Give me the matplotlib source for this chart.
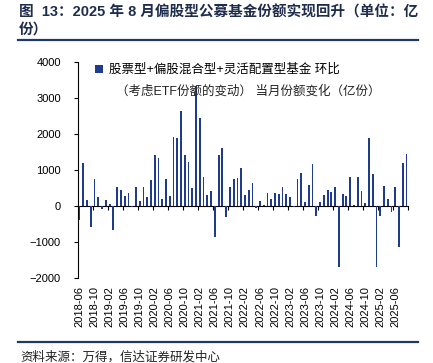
import matplotlib
matplotlib.use("Agg")
import matplotlib.pyplot as plt
from matplotlib.lines import Line2D
import numpy as np
import pandas as pd

plt.rcParams['font.family'] = ['Liberation Sans', 'Noto Sans CJK SC']

# monthly change in fund shares (100 million units), 2018-06 onwards
months = pd.date_range("2018-06-01", periods=88, freq="MS").strftime("%Y-%m").tolist()
change = [
    -400, 1200, 170, -600, 740, 240, -80, 150, 50, -670,
    530, 450, 270, 350, -40, 510, 130, 510, 250, 710,
    1425, 1340, 175, 740, 270, 1920, 1880, 2630, 1425, 1210,
    500, 3340, 2440, 800, 310, 400, -860, 1425, 1600, -305,
    530, 740, 770, 1040, 290, 435, 640, -60, 120, 10,
    350, 200, 340, 315, 510, 315, 240, -40, 740, 910,
    90, 590, 1160, -280, 90, 290, 425, 380, 520, -1700,
    315, 260, 800, 10, 805, 420, 65, 1890, 890, -1700,
    -280, 540, 195, -185, 510, -1140, 1185, 1435,
]
series_name = "股票型+偏股混合型+灵活配置型基金 环比"
series_note = "（考虑ETF份额的变动） 当月份额变化（亿份）"

navy = "#1f3c8c"
rule = "#1f3864"

fig = plt.figure(figsize=(4.33, 3.63), dpi=100)
ax = fig.add_axes([0.1794, 0.2355, 0.7638, 0.5935])

x = np.arange(len(change))
ax.bar(x, change, width=0.48, color=navy, label=series_name)

ax.set_xlim(-0.5, len(change) - 0.5)
ax.set_ylim(-2000, 4000)
ax.set_yticks(np.arange(-2000, 4001, 1000))
ax.tick_params(axis='y', labelsize=8, length=3, pad=9)

ax.spines['top'].set_visible(False)
ax.spines['right'].set_visible(False)
ax.spines['bottom'].set_visible(False)
ax.spines['left'].set_linewidth(0.8)

# labels every 4 months at the bottom of the plot
ax.set_xticks(x[::4])
ax.set_xticklabels(months[::4], rotation=90, fontsize=8)
ax.tick_params(axis='x', length=0, pad=6)

# zero axis with boundary tick marks
zero = ax.secondary_xaxis(1 / 3)
zero.set_xticks(np.arange(3.5, len(change), 4))
zero.tick_params(axis='x', length=3, labelbottom=False, width=0.8)
zero.spines['bottom'].set_linewidth(0.8)

ax.legend(loc='upper left', bbox_to_anchor=(0.22, 0.825), bbox_transform=fig.transFigure,
          frameon=False, fontsize=9, handlelength=0.6, handleheight=0.6,
          handletextpad=0.5, borderaxespad=0, borderpad=0)
fig.text(0.268, 0.749, series_note, fontsize=9, va='center', ha='left', color='#222222')

fig.text(0.044, 0.985, "图  13：2025 年 8 月偏股型公募基金份额实现回升（单位：亿\n份）",
         fontsize=10.5, fontweight='bold', color='#1f2d4d', va='top', ha='left',
         linespacing=1.3)
fig.add_artist(Line2D([0.042, 0.965], [0.89, 0.89], lw=1.6, color=rule))
fig.add_artist(Line2D([0.042, 0.965], [0.058, 0.058], lw=1.6, color=rule))
fig.text(0.046, 0.017, "资料来源：万得，信达证券研发中心", fontsize=9, style='italic',
         color='#222222', va='center', ha='left')

fig.savefig("out.png", dpi=100)
